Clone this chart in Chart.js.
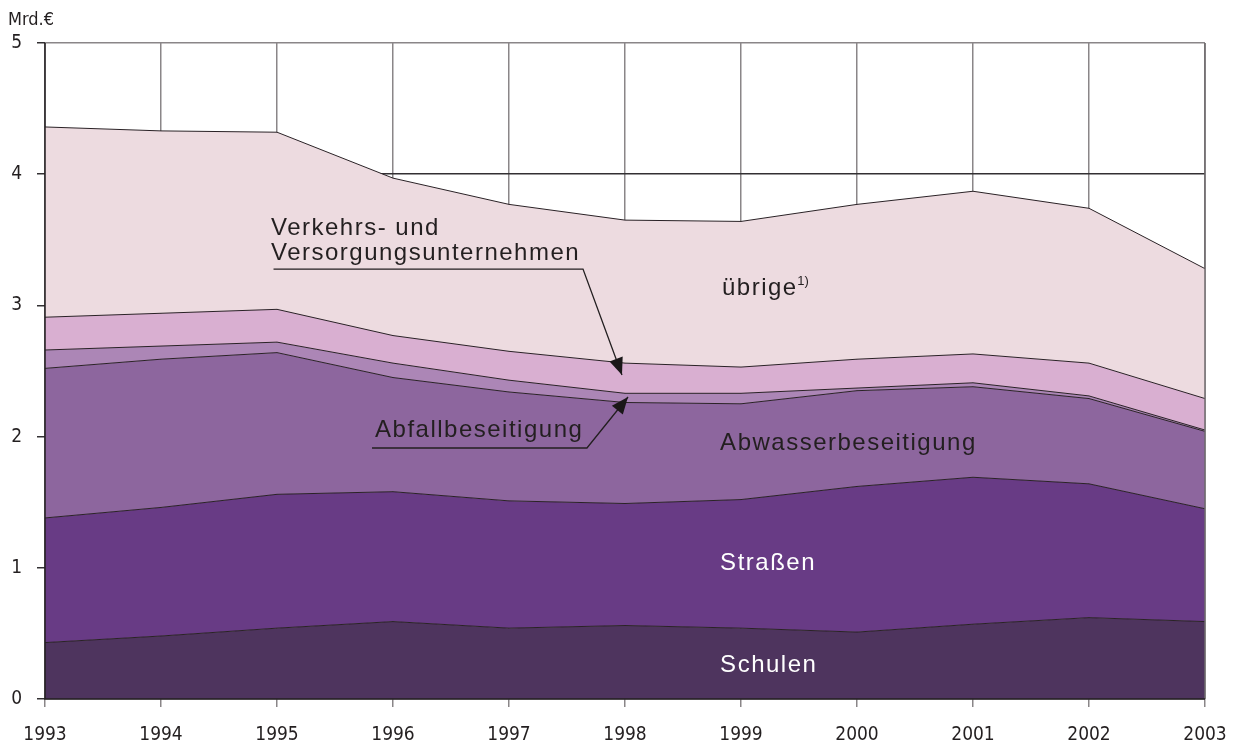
<!DOCTYPE html>
<html><head><meta charset="utf-8">
<script src="https://cdn.jsdelivr.net/npm/chart.js@4"></script>
<style>html,body{margin:0;padding:0;background:#fff}canvas{display:block}</style>
</head><body>
<canvas id="c" width="1233" height="745"></canvas>
<script>
const years = ['1993','1994','1995','1996','1997','1998','1999','2000','2001','2002','2003'];
const schulen   = [0.43,0.48,0.54,0.59,0.54,0.56,0.54,0.51,0.57,0.62,0.59];
const strassen  = [0.95,0.98,1.02,0.99,0.97,0.93,0.98,1.11,1.12,1.02,0.86];
const abwasser  = [1.14,1.13,1.08,0.87,0.83,0.77,0.73,0.73,0.69,0.65,0.59];
const abfall    = [0.14,0.10,0.08,0.11,0.09,0.07,0.08,0.02,0.03,0.02,0.01];
const verkehr   = [0.25,0.25,0.25,0.21,0.22,0.23,0.20,0.22,0.22,0.25,0.24];
const uebrige   = [1.45,1.39,1.35,1.20,1.12,1.09,1.11,1.18,1.24,1.18,0.99];
const yTicks = [0,1,2,3,4,5];
const unitLabel = 'Mrd.€';

const TXT = '"Liberation Sans", Arial, sans-serif';
const NARROW = '"Liberation Sans Narrow", "DejaVu Sans Condensed", "DejaVu Sans", sans-serif';

function ds(label, data, color, fill){
  return {label, data, backgroundColor: color, borderColor:'#2a2226', borderWidth:1,
    fill, pointRadius:0, pointHoverRadius:0, tension:0};
}

function arrow(ctx, pts, tip){
  ctx.beginPath();
  ctx.moveTo(pts[0][0], pts[0][1]);
  for (let i=1;i<pts.length;i++) ctx.lineTo(pts[i][0], pts[i][1]);
  ctx.lineTo(tip[0], tip[1]);
  ctx.stroke();
  const from = pts[pts.length-1];
  const ang = Math.atan2(tip[1]-from[1], tip[0]-from[0]);
  const L = 17, W = 7;
  ctx.beginPath();
  ctx.moveTo(tip[0], tip[1]);
  ctx.lineTo(tip[0]-L*Math.cos(ang)+W*Math.sin(ang), tip[1]-L*Math.sin(ang)-W*Math.cos(ang));
  ctx.lineTo(tip[0]-L*Math.cos(ang)-W*Math.sin(ang), tip[1]-L*Math.sin(ang)+W*Math.cos(ang));
  ctx.closePath();
  ctx.fill();
}

function setLS(ctx, v){ try { ctx.letterSpacing = v; } catch(e) {} }

const annot = {
  id:'annot',
  afterDatasetsDraw(chart){
    const {ctx, chartArea:a, scales:{x, y}} = chart;
    const px = v => x.getPixelForValue(v);
    const py = v => y.getPixelForValue(v);
    ctx.save();
    // right border and axes lines over fills
    ctx.strokeStyle = '#6e6a6c'; ctx.lineWidth = 1.5;
    ctx.beginPath(); ctx.moveTo(a.right, a.top); ctx.lineTo(a.right, a.bottom); ctx.stroke();
    ctx.strokeStyle = '#231f20'; ctx.lineWidth = 1.5;
    ctx.beginPath(); ctx.moveTo(a.left, a.top); ctx.lineTo(a.left, a.bottom); ctx.lineTo(a.right, a.bottom); ctx.stroke();

    ctx.textBaseline = 'alphabetic'; ctx.textAlign = 'left';
    ctx.font = '24px ' + TXT;
    setLS(ctx, '1.5px');
    ctx.fillStyle = '#231f20';
    ctx.fillText('Verkehrs- und', px(1.948), py(3.537));
    ctx.fillText('Versorgungsunternehmen', px(1.948), py(3.346));
    ctx.fillText('Abfallbeseitigung', px(2.845), py(1.997));
    const ux = px(5.836), uy = py(3.079);
    ctx.fillText('übrige', ux, uy);
    const uw = ctx.measureText('übrige').width;
    ctx.font = '13px ' + TXT;
    setLS(ctx, '0px');
    ctx.fillText('1)', ux + uw - 0.5, uy - 10);
    ctx.font = '24px ' + TXT;
    setLS(ctx, '1.5px');
    ctx.fillText('Abwasserbeseitigung', px(5.82), py(1.898));
    ctx.fillStyle = '#ffffff';
    ctx.fillText('Straßen', px(5.82), py(0.983));
    ctx.fillText('Schulen', px(5.82), py(0.206));

    // leader lines with arrows
    ctx.strokeStyle = '#231f20'; ctx.fillStyle = '#1a1718'; ctx.lineWidth = 1.3;
    arrow(ctx, [[px(1.97), py(3.277)], [px(4.638), py(3.277)]], [px(4.974), py(2.47)]);
    arrow(ctx, [[px(2.819), py(1.913)], [px(4.672), py(1.913)]], [px(5.026), py(2.302)]);

    // unit label
    ctx.fillStyle = '#231f20';
    setLS(ctx, '0px');
    ctx.font = '18px ' + NARROW;
    ctx.fillText(unitLabel, 8, 25);
    ctx.restore();
  }
};

new Chart(document.getElementById('c'), {
  type:'line',
  data:{
    labels: years,
    datasets:[
      ds('Schulen', schulen, '#4e345e', 'origin'),
      ds('Straßen', strassen, '#683b85', '-1'),
      ds('Abwasserbeseitigung', abwasser, '#8d669e', '-1'),
      ds('Abfallbeseitigung', abfall, '#ac86b6', '-1'),
      ds('Verkehrs- und Versorgungsunternehmen', verkehr, '#d9afd1', '-1'),
      ds('übrige', uebrige, '#eddbe0', '-1')
    ]
  },
  options:{
    responsive:false, devicePixelRatio:1, animation:false,
    layout:{padding:{top:43, right:28, left:0, bottom:0}},
    plugins:{legend:{display:false}, tooltip:{enabled:false}},
    scales:{
      x:{
        offset:false,
        grid:{color:'#8a8688', lineWidth:1.5, tickLength:8, tickColor:'#8a8688', drawOnChartArea:true},
        border:{display:false},
        ticks:{color:'#231f20', font:{family:NARROW, size:19}, padding:17, maxRotation:0, autoSkip:false},
        afterFit(s){ s.height = 46; s.paddingLeft = 0; s.paddingRight = 0; }
      },
      y:{
        stacked:true, min:0, max:5,
        afterBuildTicks(s){ s.ticks = yTicks.map(v => ({value:v})); },
        grid:{color: c => (c.tick && c.tick.value === 4) ? '#333033' : '#8a8688', lineWidth:1.5, tickLength:8, tickColor:'#333033'},
        border:{display:false},
        ticks:{color:'#231f20', font:{family:NARROW, size:19}, padding:15},
        afterFit(s){ s.width = 45; s.paddingTop = 0; s.paddingBottom = 0; }
      }
    }
  },
  plugins:[annot]
});
</script>
</body></html>
